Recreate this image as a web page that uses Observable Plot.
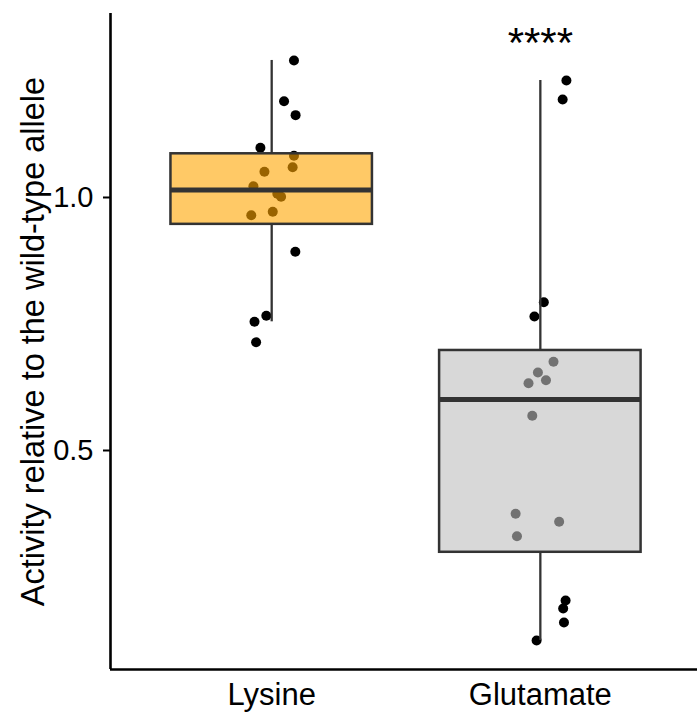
<!DOCTYPE html>
<html>
<head>
<meta charset="utf-8">
<script src="https://cdn.jsdelivr.net/npm/d3@7"></script>
<script src="https://cdn.jsdelivr.net/npm/@observablehq/plot@0.6"></script>
<style>
  html, body { margin: 0; padding: 0; background: white; }
</style>
</head>
<body>
<div id="chart"></div>
<script>
// ---- Data ----
const categories = ["Lysine", "Glutamate"];
const lysineValues = [1.2708, 1.1903, 1.1627, 1.0982, 1.0824, 1.0599, 1.0508, 1.0223, 1.0073, 1.0014, 0.9717, 0.9650, 0.8927, 0.7662, 0.7543, 0.7140];
const lysineJitter = [0.083, 0.046, 0.089, -0.042, 0.083, 0.078, -0.027, -0.068, 0.021, 0.035, 0.004, -0.076, 0.088, -0.020, -0.064, -0.058];
const glutamateValues = [1.2312, 1.1937, 0.7931, 0.7648, 0.6753, 0.6542, 0.6389, 0.6330, 0.5685, 0.3749, 0.3591, 0.3306, 0.2036, 0.1877, 0.1601, 0.1245];
const glutamateJitter = [0.097, 0.083, 0.013, -0.022, 0.049, -0.009, 0.021, -0.044, -0.030, -0.092, 0.070, -0.087, 0.094, 0.085, 0.088, -0.014];
const boxFills = ["#FFA500", "#BEBEBE"];
const yTicks = [0.5, 1.0];
const yTitle = "Activity relative to the wild-type allele";
const sigLabel = "****";

// ---- Build tables ----
const seriesValues = [lysineValues, glutamateValues];
const seriesJitter = [lysineJitter, glutamateJitter];
const points = [];
categories.forEach((c, i) => {
  seriesValues[i].forEach((v, j) => points.push({cat: c, pos: i + 1, x: i + 1 + seriesJitter[i][j], value: v}));
});
const stats = categories.map((c, i) => {
  const v = seriesValues[i].slice().sort(d3.ascending);
  const q1 = d3.quantile(v, 0.25), med = d3.quantile(v, 0.5), q3 = d3.quantile(v, 0.75);
  const iqr = q3 - q1;
  const lo = d3.min(v.filter(d => d >= q1 - 1.5 * iqr));
  const hi = d3.max(v.filter(d => d <= q3 + 1.5 * iqr));
  return {cat: c, pos: i + 1, q1, med, q3, lo, hi, fill: boxFills[i]};
});

const boxHalf = 0.375;
const xDomain = [0.4, 2.585];
const yDomain = [0.0672, 1.3636];

const chart = Plot.plot({
  width: 697,
  height: 712,
  marginLeft: 110,
  marginRight: 0,
  marginTop: 13,
  marginBottom: 43,
  style: {fontFamily: "'Liberation Sans', Arial, Helvetica, sans-serif", fontSize: "29px", background: "white", color: "black", overflow: "visible"},
  x: {type: "linear", domain: xDomain, axis: null},
  y: {domain: yDomain, axis: null},
  color: {type: "identity"},
  marks: [
    Plot.dot(points, {x: "x", y: "value", r: 5, fill: "black", stroke: "none"}),
    Plot.ruleX(stats, {x: "pos", y1: "lo", y2: "q1", stroke: "#333333", strokeWidth: 2.3}),
    Plot.ruleX(stats, {x: "pos", y1: "q3", y2: "hi", stroke: "#333333", strokeWidth: 2.3}),
    Plot.rect(stats, {x1: d => d.pos - boxHalf, x2: d => d.pos + boxHalf, y1: "q1", y2: "q3", fill: "fill", fillOpacity: 0.6, stroke: "#333333", strokeWidth: 2.5}),
    Plot.ruleY(stats, {y: "med", x1: d => d.pos - boxHalf, x2: d => d.pos + boxHalf, stroke: "#333333", strokeWidth: 4.8}),
    Plot.ruleX([xDomain[0]], {stroke: "black", strokeWidth: 2.6}),
    Plot.ruleY([yDomain[0]], {stroke: "black", strokeWidth: 2.6}),
    Plot.axisY(yTicks, {tickSize: 7, tickPadding: 10, fontSize: 29, tickFormat: d3.format(".1f"), strokeWidth: 2, label: null}),
    Plot.axisX([1, 2], {tickSize: 0, tickPadding: 13, fontSize: 31, tickFormat: d => categories[d - 1], label: null}),
    Plot.text([yTitle], {frameAnchor: "left", textAnchor: "middle", rotate: -90, dx: -77, fontSize: 32.5, fill: "black"}),
    Plot.text([sigLabel], {x: 2, y: 1.305, fontSize: 42, fill: "black"})
  ]
});
document.getElementById("chart").appendChild(chart);
</script>
</body>
</html>
